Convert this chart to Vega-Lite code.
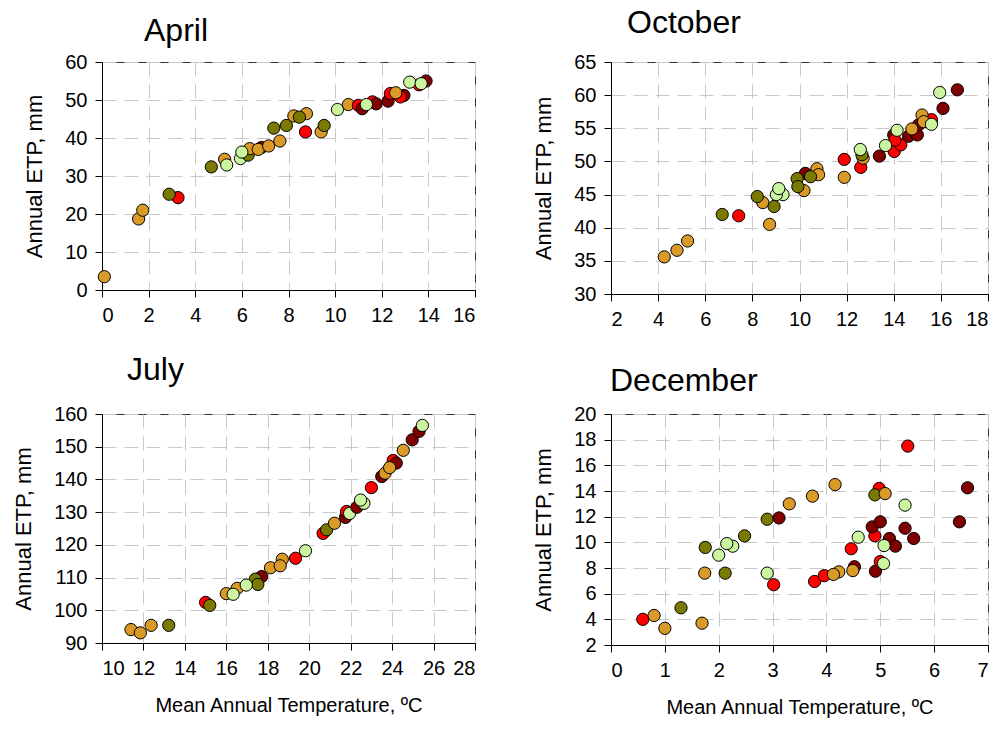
{
  "$schema": "https://vega.github.io/schema/vega-lite/v6.json",
  "background": "white",
  "padding": {"left": 12, "top": 6, "right": 2, "bottom": 2},
  "spacing": 23,
  "config": {
    "font": "Liberation Sans",
    "view": {"stroke": "#333333", "strokeWidth": 1},
    "axis": {
      "labelFont": "Liberation Sans",
      "labelFontSize": 20,
      "labelColor": "#000000",
      "labelPadding": 8,
      "titleFont": "Liberation Sans",
      "titleFontSize": 22,
      "titleFontWeight": "normal",
      "titleColor": "#000000",
      "tickColor": "#000000",
      "tickSize": 7,
      "domainColor": "#000000",
      "gridColor": "#c8c8c8",
      "gridDash": [14, 8],
      "gridWidth": 1
    },
    "axisX": {"titleFontSize": 20, "titlePadding": 17},
    "axisY": {"titlePadding": 18},
    "title": {"font": "Liberation Sans", "fontSize": 32, "fontWeight": "normal", "anchor": "start", "frame": "group", "color": "#000000"}
  },
  "datasets": {
    "april": [
      {"t": 0.1, "etp": 3.5, "g": "O"}, {"t": 1.57, "etp": 18.7, "g": "O"}, {"t": 1.75, "etp": 21.0, "g": "O"},
      {"t": 3.26, "etp": 24.3, "g": "R"}, {"t": 2.88, "etp": 25.2, "g": "V"}, {"t": 4.69, "etp": 32.4, "g": "V"},
      {"t": 5.26, "etp": 34.4, "g": "O"}, {"t": 5.35, "etp": 32.9, "g": "L"}, {"t": 5.94, "etp": 34.6, "g": "L"},
      {"t": 6.84, "etp": 37.5, "g": "D"}, {"t": 6.27, "etp": 35.5, "g": "V"}, {"t": 6.34, "etp": 37.2, "g": "O"},
      {"t": 6.7, "etp": 37.0, "g": "O"}, {"t": 6.0, "etp": 36.3, "g": "L"}, {"t": 7.15, "etp": 37.9, "g": "O"},
      {"t": 7.63, "etp": 39.2, "g": "O"}, {"t": 7.37, "etp": 42.6, "g": "V"}, {"t": 7.91, "etp": 43.3, "g": "V"},
      {"t": 8.23, "etp": 45.8, "g": "O"}, {"t": 8.77, "etp": 46.4, "g": "O"}, {"t": 8.47, "etp": 45.5, "g": "V"},
      {"t": 8.73, "etp": 41.6, "g": "R"}, {"t": 9.4, "etp": 41.6, "g": "O"}, {"t": 9.53, "etp": 43.3, "g": "V"},
      {"t": 10.1, "etp": 47.5, "g": "L"}, {"t": 10.57, "etp": 48.8, "g": "O"}, {"t": 11.0, "etp": 48.6, "g": "R"},
      {"t": 11.16, "etp": 47.7, "g": "D"}, {"t": 11.6, "etp": 49.5, "g": "R"}, {"t": 11.76, "etp": 49.0, "g": "D"},
      {"t": 11.34, "etp": 48.8, "g": "L"}, {"t": 12.27, "etp": 49.7, "g": "D"}, {"t": 12.37, "etp": 51.7, "g": "R"},
      {"t": 12.95, "etp": 51.2, "g": "D"}, {"t": 12.8, "etp": 50.8, "g": "R"}, {"t": 12.6, "etp": 51.9, "g": "O"},
      {"t": 13.6, "etp": 54.0, "g": "R"}, {"t": 13.9, "etp": 55.0, "g": "D"}, {"t": 13.2, "etp": 54.7, "g": "L"},
      {"t": 13.69, "etp": 54.3, "g": "L"}
    ],
    "october": [
      {"t": 4.26, "etp": 35.6, "g": "O"}, {"t": 4.8, "etp": 36.6, "g": "O"}, {"t": 5.25, "etp": 38.0, "g": "O"},
      {"t": 6.72, "etp": 42.0, "g": "V"}, {"t": 7.42, "etp": 41.8, "g": "R"}, {"t": 8.73, "etp": 40.5, "g": "O"},
      {"t": 8.44, "etp": 43.8, "g": "O"}, {"t": 8.21, "etp": 44.7, "g": "V"}, {"t": 9.3, "etp": 45.0, "g": "L"},
      {"t": 8.92, "etp": 43.2, "g": "V"}, {"t": 9.02, "etp": 45.0, "g": "L"}, {"t": 9.12, "etp": 45.9, "g": "L"},
      {"t": 10.19, "etp": 45.6, "g": "O"}, {"t": 10.25, "etp": 48.2, "g": "D"}, {"t": 9.9, "etp": 47.4, "g": "V"},
      {"t": 9.93, "etp": 46.2, "g": "V"}, {"t": 10.74, "etp": 48.9, "g": "O"}, {"t": 10.81, "etp": 48.0, "g": "O"},
      {"t": 10.47, "etp": 47.7, "g": "V"}, {"t": 11.9, "etp": 50.3, "g": "R"}, {"t": 11.9, "etp": 47.6, "g": "O"},
      {"t": 12.6, "etp": 49.1, "g": "R"}, {"t": 12.7, "etp": 50.5, "g": "O"}, {"t": 12.65, "etp": 51.0, "g": "V"},
      {"t": 12.58, "etp": 51.8, "g": "L"}, {"t": 13.39, "etp": 50.8, "g": "D"}, {"t": 14.02, "etp": 51.5, "g": "R"},
      {"t": 14.3, "etp": 52.5, "g": "R"}, {"t": 14.0, "etp": 54.0, "g": "D"}, {"t": 14.05, "etp": 53.2, "g": "R"},
      {"t": 13.65, "etp": 52.4, "g": "L"}, {"t": 14.14, "etp": 54.7, "g": "L"}, {"t": 14.63, "etp": 53.8, "g": "D"},
      {"t": 15.0, "etp": 54.0, "g": "D"}, {"t": 15.05, "etp": 55.5, "g": "D"}, {"t": 14.77, "etp": 54.9, "g": "O"},
      {"t": 15.6, "etp": 56.3, "g": "R"}, {"t": 15.2, "etp": 57.0, "g": "O"}, {"t": 15.27, "etp": 56.0, "g": "O"},
      {"t": 15.6, "etp": 55.6, "g": "L"}, {"t": 16.09, "etp": 58.0, "g": "D"}, {"t": 15.95, "etp": 60.4, "g": "L"},
      {"t": 16.7, "etp": 60.8, "g": "D"}
    ],
    "july": [
      {"t": 11.4, "etp": 94.1, "g": "O"}, {"t": 11.85, "etp": 93.1, "g": "O"}, {"t": 12.37, "etp": 95.4, "g": "O"},
      {"t": 13.22, "etp": 95.4, "g": "V"}, {"t": 15.0, "etp": 102.4, "g": "R"}, {"t": 15.2, "etp": 101.5, "g": "V"},
      {"t": 16.0, "etp": 105.1, "g": "O"}, {"t": 16.52, "etp": 106.7, "g": "O"}, {"t": 16.33, "etp": 104.9, "g": "L"},
      {"t": 17.7, "etp": 110.3, "g": "D"}, {"t": 17.4, "etp": 109.5, "g": "V"}, {"t": 17.52, "etp": 107.9, "g": "V"},
      {"t": 16.96, "etp": 107.7, "g": "L"}, {"t": 18.13, "etp": 113.0, "g": "O"}, {"t": 18.7, "etp": 115.6, "g": "O"},
      {"t": 18.6, "etp": 113.6, "g": "O"}, {"t": 19.34, "etp": 115.9, "g": "R"}, {"t": 19.82, "etp": 118.2, "g": "L"},
      {"t": 20.67, "etp": 123.5, "g": "R"}, {"t": 20.84, "etp": 124.6, "g": "V"}, {"t": 21.22, "etp": 126.6, "g": "O"},
      {"t": 21.75, "etp": 128.4, "g": "D"}, {"t": 21.8, "etp": 130.2, "g": "R"}, {"t": 21.95, "etp": 129.6, "g": "L"},
      {"t": 22.3, "etp": 131.5, "g": "D"}, {"t": 22.64, "etp": 132.7, "g": "L"}, {"t": 22.48, "etp": 133.7, "g": "L"},
      {"t": 23.0, "etp": 137.5, "g": "R"}, {"t": 23.5, "etp": 140.9, "g": "D"}, {"t": 23.66, "etp": 141.9, "g": "O"},
      {"t": 24.05, "etp": 145.8, "g": "R"}, {"t": 24.2, "etp": 145.0, "g": "D"}, {"t": 23.88, "etp": 143.6, "g": "O"},
      {"t": 24.54, "etp": 148.9, "g": "O"}, {"t": 24.97, "etp": 152.1, "g": "D"}, {"t": 25.3, "etp": 154.7, "g": "D"},
      {"t": 25.46, "etp": 156.5, "g": "L"}
    ],
    "december": [
      {"t": 0.59, "etp": 4.0, "g": "R"}, {"t": 0.8, "etp": 4.3, "g": "O"}, {"t": 1.0, "etp": 3.3, "g": "O"},
      {"t": 1.3, "etp": 4.9, "g": "V"}, {"t": 1.69, "etp": 3.7, "g": "O"}, {"t": 1.74, "etp": 7.6, "g": "O"},
      {"t": 1.75, "etp": 9.6, "g": "V"}, {"t": 2.0, "etp": 9.0, "g": "L"}, {"t": 2.26, "etp": 9.7, "g": "L"},
      {"t": 2.15, "etp": 9.9, "g": "L"}, {"t": 2.12, "etp": 7.6, "g": "V"}, {"t": 2.48, "etp": 10.5, "g": "V"},
      {"t": 2.9, "etp": 7.6, "g": "L"}, {"t": 3.02, "etp": 6.7, "g": "R"}, {"t": 2.9, "etp": 11.8, "g": "V"},
      {"t": 3.12, "etp": 11.9, "g": "D"}, {"t": 3.31, "etp": 13.0, "g": "O"}, {"t": 3.74, "etp": 13.6, "g": "O"},
      {"t": 4.16, "etp": 14.5, "g": "O"}, {"t": 3.78, "etp": 6.95, "g": "R"}, {"t": 3.96, "etp": 7.4, "g": "R"},
      {"t": 4.23, "etp": 7.7, "g": "O"}, {"t": 4.13, "etp": 7.5, "g": "O"}, {"t": 4.46, "etp": 9.5, "g": "R"},
      {"t": 4.52, "etp": 8.1, "g": "D"}, {"t": 4.49, "etp": 7.8, "g": "O"}, {"t": 4.59, "etp": 10.4, "g": "L"},
      {"t": 4.9, "etp": 10.5, "g": "R"}, {"t": 4.85, "etp": 11.2, "g": "D"}, {"t": 5.0, "etp": 11.6, "g": "D"},
      {"t": 4.98, "etp": 14.2, "g": "R"}, {"t": 4.9, "etp": 13.7, "g": "V"}, {"t": 5.09, "etp": 13.8, "g": "O"},
      {"t": 4.91, "etp": 7.75, "g": "D"}, {"t": 5.0, "etp": 8.5, "g": "R"}, {"t": 5.06, "etp": 8.35, "g": "L"},
      {"t": 5.17, "etp": 10.3, "g": "D"}, {"t": 5.28, "etp": 9.7, "g": "D"}, {"t": 5.07, "etp": 9.75, "g": "L"},
      {"t": 5.46, "etp": 12.9, "g": "L"}, {"t": 5.46, "etp": 11.1, "g": "D"}, {"t": 5.62, "etp": 10.3, "g": "D"},
      {"t": 5.51, "etp": 17.5, "g": "R"}, {"t": 6.47, "etp": 11.6, "g": "D"}, {"t": 6.62, "etp": 14.25, "g": "D"}
    ]
  },
  "vconcat": [
    {
      "spacing": 56,
      "hconcat": [
        {
          "title": {"text": "April", "dx": 42, "offset": 4},
          "width": 373, "height": 228,
          "data": {"name": "april"},
          "mark": {"type": "circle", "size": 150, "opacity": 1, "stroke": "#000000", "strokeWidth": 1},
          "encoding": {
            "x": {"field": "t", "type": "quantitative", "scale": {"domain": [0, 16], "nice": false},
                  "axis": {"values": [0, 2, 4, 6, 8, 10, 12, 14, 16], "title": null}},
            "y": {"field": "etp", "type": "quantitative", "scale": {"domain": [0, 60], "nice": false},
                  "axis": {"values": [0, 10, 20, 30, 40, 50, 60], "title": "Annual ETP, mm"}},
            "color": {"field": "g", "type": "nominal", "legend": null,
                      "scale": {"domain": ["R", "D", "O", "V", "L"], "range": ["#ff0000", "#800000", "#da9a28", "#7a7a00", "#ccf5a0"]}}
          }
        },
        {
          "title": {"text": "October", "dx": 16, "offset": 12},
          "width": 377, "height": 232,
          "data": {"name": "october"},
          "mark": {"type": "circle", "size": 150, "opacity": 1, "stroke": "#000000", "strokeWidth": 1},
          "encoding": {
            "x": {"field": "t", "type": "quantitative", "scale": {"domain": [2, 18], "nice": false},
                  "axis": {"values": [2, 4, 6, 8, 10, 12, 14, 16, 18], "title": null}},
            "y": {"field": "etp", "type": "quantitative", "scale": {"domain": [30, 65], "nice": false, "zero": false},
                  "axis": {"values": [30, 35, 40, 45, 50, 55, 60, 65], "title": "Annual ETP, mm"}},
            "color": {"field": "g", "type": "nominal", "legend": null,
                      "scale": {"domain": ["R", "D", "O", "V", "L"], "range": ["#ff0000", "#800000", "#da9a28", "#7a7a00", "#ccf5a0"]}}
          }
        }
      ]
    },
    {
      "spacing": 56,
      "hconcat": [
        {
          "title": {"text": "July", "dx": 25, "offset": 17},
          "width": 373, "height": 229,
          "data": {"name": "july"},
          "mark": {"type": "circle", "size": 150, "opacity": 1, "stroke": "#000000", "strokeWidth": 1},
          "encoding": {
            "x": {"field": "t", "type": "quantitative", "scale": {"domain": [10, 28], "nice": false, "zero": false},
                  "axis": {"values": [10, 12, 14, 16, 18, 20, 22, 24, 26, 28], "title": "Mean Annual Temperature, ºC"}},
            "y": {"field": "etp", "type": "quantitative", "scale": {"domain": [90, 160], "nice": false, "zero": false},
                  "axis": {"values": [90, 100, 110, 120, 130, 140, 150, 160], "title": "Annual ETP, mm"}},
            "color": {"field": "g", "type": "nominal", "legend": null,
                      "scale": {"domain": ["R", "D", "O", "V", "L"], "range": ["#ff0000", "#800000", "#da9a28", "#7a7a00", "#ccf5a0"]}}
          }
        },
        {
          "title": {"text": "December", "dx": -1, "offset": 6},
          "width": 377, "height": 231,
          "data": {"name": "december"},
          "mark": {"type": "circle", "size": 150, "opacity": 1, "stroke": "#000000", "strokeWidth": 1},
          "encoding": {
            "x": {"field": "t", "type": "quantitative", "scale": {"domain": [0, 7], "nice": false},
                  "axis": {"values": [0, 1, 2, 3, 4, 5, 6, 7], "title": "Mean Annual Temperature, ºC"}},
            "y": {"field": "etp", "type": "quantitative", "scale": {"domain": [2, 20], "nice": false, "zero": false},
                  "axis": {"values": [2, 4, 6, 8, 10, 12, 14, 16, 18, 20], "title": "Annual ETP, mm"}},
            "color": {"field": "g", "type": "nominal", "legend": null,
                      "scale": {"domain": ["R", "D", "O", "V", "L"], "range": ["#ff0000", "#800000", "#da9a28", "#7a7a00", "#ccf5a0"]}}
          }
        }
      ]
    }
  ]
}
